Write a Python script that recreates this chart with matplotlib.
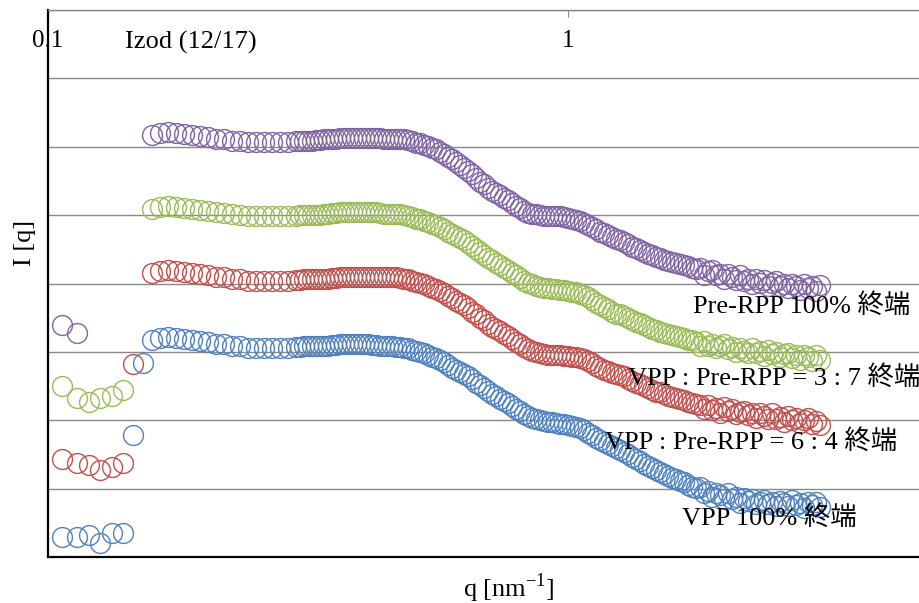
import numpy as np
import matplotlib
matplotlib.use('Agg')
import matplotlib.pyplot as plt
from matplotlib.ticker import NullLocator, FixedLocator

# FONTS (serif latin + CJK fallback for 終端)
plt.rcParams['font.family'] = ['Liberation Serif', 'Noto Sans CJK JP']
plt.rcParams['mathtext.fontset'] = 'custom'
plt.rcParams['mathtext.rm'] = 'Liberation Serif'

# DATA (I in grid units, one grid step per unit)

# low-q points in front of the beam stop
q_low = [0.1064, 0.1137, 0.1199, 0.1259, 0.1328, 0.1394, 0.1457, 0.1522]
nan = np.nan
purple_low = [3.39, 3.28, nan, nan, nan, nan, nan, nan]
green_low = [2.50, 2.33, 2.27, 2.32, 2.35, 2.44, nan, nan]
red_low = [1.43, 1.38, 1.35, 1.27, 1.31, 1.38, 2.82, nan]
blue_low = [0.29, 0.29, 0.32, 0.20, 0.35, 0.35, 1.78, 2.84]

q_main = [0.1585, 0.1642, 0.1701, 0.1763, 0.1826, 0.1892, 0.1960, 0.2031, 0.2104, 0.2180,
          0.2259, 0.2340, 0.2425, 0.2512, 0.2603, 0.2697, 0.2794, 0.2894, 0.2999,
          0.3052, 0.3107, 0.3162, 0.3219, 0.3276, 0.3335, 0.3394, 0.3455, 0.3517, 0.3580,
          0.3644, 0.3709, 0.3775, 0.3843, 0.3911, 0.3981, 0.4052, 0.4125, 0.4198, 0.4273,
          0.4350, 0.4427, 0.4507, 0.4587, 0.4669, 0.4753, 0.4837, 0.4924, 0.5012, 0.5101,
          0.5193, 0.5285, 0.5380, 0.5476, 0.5574, 0.5673, 0.5775, 0.5878, 0.5983, 0.6090,
          0.6199, 0.6310, 0.6422, 0.6537, 0.6654, 0.6773, 0.6894, 0.7017, 0.7142, 0.7270,
          0.7400, 0.7532, 0.7667, 0.7804, 0.7943, 0.8085, 0.8230, 0.8377, 0.8526, 0.8679,
          0.8834, 0.8992, 0.9152, 0.9316, 0.9483, 0.9652, 0.9824, 1.0000, 1.0179, 1.0361,
          1.0546, 1.0734, 1.0926, 1.1121, 1.1320, 1.1522, 1.1728, 1.1938, 1.2151, 1.2368,
          1.2589, 1.2814, 1.3043, 1.3276, 1.3513, 1.3755, 1.4001, 1.4251, 1.4506, 1.4765,
          1.5029, 1.5298, 1.5571, 1.5849, 1.6132, 1.6421, 1.6714, 1.7013, 1.7317, 1.7626,
          1.7941, 1.8262, 1.8588, 1.8920, 1.9258, 1.9603, 1.9953, 2.0309, 2.0672, 2.1042,
          2.1418, 2.1800, 2.2190, 2.2586, 2.2990, 2.3401, 2.3819, 2.4245, 2.4678, 2.5119,
          2.5568, 2.6025, 2.6490, 2.6963, 2.7445, 2.7935, 2.8435, 2.8943, 2.9460, 2.9986,
          3.0522]

purple_main = [6.17, 6.20, 6.22, 6.20, 6.19, 6.17, 6.16, 6.14, 6.12, 6.11,
               6.09, 6.09, 6.07, 6.07, 6.07, 6.07, 6.07, 6.07, 6.08,
               6.08, 6.09, 6.09, 6.09, 6.10, 6.10, 6.11, 6.11, 6.12, 6.12,
               6.13, 6.13, 6.13, 6.13, 6.13, 6.13, 6.13, 6.13, 6.13, 6.13,
               6.13, 6.12, 6.12, 6.12, 6.12, 6.12, 6.11, 6.10, 6.08, 6.06,
               6.05, 6.03, 6.01, 5.98, 5.96, 5.93, 5.89, 5.85, 5.82, 5.78,
               5.74, 5.69, 5.65, 5.60, 5.55, 5.49, 5.45, 5.40, 5.36, 5.32,
               5.29, 5.25, 5.22, 5.18, 5.14, 5.10, 5.06, 5.03, 5.02, 5.01,
               5.00, 4.99, 4.99, 4.99, 4.99, 4.98, 4.97, 4.96, 4.95, 4.93,
               4.91, 4.89, 4.86, 4.82, 4.79, 4.76, 4.74, 4.71, 4.68, 4.65,
               4.63, 4.61, 4.58, 4.54, 4.52, 4.49, 4.46, 4.43, 4.41, 4.39,
               4.37, 4.35, 4.33, 4.31, 4.30, 4.28, 4.27, 4.25, 4.23, 4.21,
               4.22, 4.13, 4.18, 4.20, 4.12, 4.14, 4.07, 4.14, 4.10, 4.05,
               4.12, 4.03, 4.07, 3.99, 4.07, 4.01, 4.05, 3.97, 4.01, 4.03,
               3.96, 4.00, 3.93, 4.00, 3.96, 3.91, 4.00, 3.93, 3.97, 3.89,
               3.98]

green_main = [5.09, 5.12, 5.14, 5.12, 5.11, 5.09, 5.08, 5.06, 5.04, 5.03,
              5.01, 5.00, 4.98, 4.98, 4.98, 4.98, 4.98, 4.98, 4.99,
              5.00, 5.00, 5.00, 5.00, 5.00, 5.00, 5.01, 5.02, 5.03, 5.03,
              5.04, 5.04, 5.04, 5.04, 5.05, 5.05, 5.05, 5.05, 5.05, 5.04,
              5.03, 5.02, 5.02, 5.02, 5.02, 5.01, 5.00, 4.99, 4.97, 4.95,
              4.94, 4.92, 4.90, 4.87, 4.85, 4.82, 4.79, 4.76, 4.73, 4.70,
              4.67, 4.63, 4.59, 4.55, 4.50, 4.46, 4.42, 4.38, 4.34, 4.30,
              4.27, 4.23, 4.20, 4.16, 4.12, 4.08, 4.04, 4.01, 3.99, 3.97,
              3.95, 3.94, 3.93, 3.92, 3.92, 3.91, 3.90, 3.89, 3.88, 3.87,
              3.85, 3.83, 3.80, 3.76, 3.72, 3.68, 3.65, 3.62, 3.59, 3.56,
              3.55, 3.53, 3.49, 3.46, 3.44, 3.42, 3.39, 3.36, 3.34, 3.32,
              3.29, 3.27, 3.26, 3.24, 3.23, 3.22, 3.20, 3.18, 3.17, 3.15,
              3.08, 3.16, 3.09, 3.12, 3.05, 3.09, 3.12, 3.04, 3.07, 3.00,
              3.06, 3.02, 2.98, 3.06, 2.98, 3.01, 2.94, 3.03, 2.97, 3.00,
              2.93, 2.97, 2.99, 2.91, 2.95, 2.88, 2.96, 2.92, 2.87, 2.95,
              2.88]

red_main = [4.15, 4.18, 4.20, 4.18, 4.17, 4.15, 4.14, 4.12, 4.10, 4.09,
            4.07, 4.06, 4.04, 4.04, 4.04, 4.04, 4.04, 4.04, 4.05,
            4.05, 4.06, 4.06, 4.06, 4.06, 4.06, 4.07, 4.07, 4.08, 4.08,
            4.09, 4.09, 4.09, 4.09, 4.09, 4.09, 4.09, 4.09, 4.10, 4.10,
            4.10, 4.09, 4.09, 4.09, 4.09, 4.08, 4.07, 4.06, 4.04, 4.02,
            4.01, 3.99, 3.97, 3.94, 3.92, 3.89, 3.86, 3.82, 3.79, 3.75,
            3.72, 3.68, 3.64, 3.59, 3.55, 3.50, 3.46, 3.41, 3.37, 3.33,
            3.30, 3.26, 3.23, 3.19, 3.15, 3.11, 3.07, 3.04, 3.02, 3.00,
            2.98, 2.97, 2.96, 2.95, 2.95, 2.95, 2.94, 2.94, 2.93, 2.92,
            2.91, 2.90, 2.86, 2.83, 2.79, 2.76, 2.74, 2.72, 2.69, 2.67,
            2.66, 2.64, 2.60, 2.57, 2.55, 2.53, 2.50, 2.47, 2.44, 2.42,
            2.41, 2.39, 2.36, 2.34, 2.33, 2.31, 2.29, 2.27, 2.25, 2.24,
            2.22, 2.16, 2.23, 2.15, 2.18, 2.11, 2.19, 2.14, 2.17, 2.09,
            2.12, 2.14, 2.07, 2.10, 2.03, 2.10, 2.06, 2.02, 2.10, 2.02,
            2.05, 1.98, 2.06, 2.01, 2.04, 1.96, 2.00, 2.03, 1.95, 1.99,
            1.93]

blue_main = [3.17, 3.20, 3.22, 3.20, 3.19, 3.17, 3.16, 3.14, 3.12, 3.11,
             3.09, 3.08, 3.06, 3.06, 3.06, 3.06, 3.06, 3.06, 3.07,
             3.07, 3.08, 3.08, 3.08, 3.08, 3.08, 3.09, 3.09, 3.10, 3.10,
             3.11, 3.11, 3.11, 3.11, 3.11, 3.11, 3.11, 3.11, 3.10, 3.10,
             3.09, 3.08, 3.08, 3.08, 3.07, 3.07, 3.06, 3.05, 3.03, 3.01,
             3.00, 2.98, 2.96, 2.93, 2.91, 2.88, 2.85, 2.81, 2.77, 2.74,
             2.71, 2.68, 2.64, 2.60, 2.55, 2.51, 2.47, 2.43, 2.39, 2.35,
             2.31, 2.28, 2.25, 2.21, 2.17, 2.13, 2.09, 2.06, 2.04, 2.02,
             2.00, 1.99, 1.98, 1.97, 1.96, 1.95, 1.94, 1.93, 1.92, 1.90,
             1.88, 1.86, 1.82, 1.78, 1.74, 1.71, 1.68, 1.65, 1.62, 1.59,
             1.57, 1.54, 1.50, 1.46, 1.43, 1.40, 1.36, 1.33, 1.30, 1.27,
             1.24, 1.21, 1.19, 1.16, 1.14, 1.11, 1.09, 1.06, 1.03, 1.01,
             1.02, 0.93, 0.96, 0.88, 0.94, 0.90, 0.85, 0.93, 0.85, 0.88,
             0.79, 0.87, 0.82, 0.85, 0.77, 0.81, 0.84, 0.77, 0.80, 0.74,
             0.82, 0.79, 0.74, 0.83, 0.76, 0.79, 0.72, 0.81, 0.76, 0.80,
             0.73]

series_names = ['Pre-RPP 100% 終端', 'VPP : Pre-RPP = 3 : 7 終端',
                'VPP : Pre-RPP = 6 : 4 終端', 'VPP 100% 終端']
series_low = [purple_low, green_low, red_low, blue_low]
series_main = [purple_main, green_main, red_main, blue_main]
colors = ['#8064A2', '#9BBB59', '#C0504D', '#4F81BD']

x_ticks = [0.1, 1]
x_tick_labels = ['0.1', '1']

# FIGURE
W, H = 919, 603
fig = plt.figure(figsize=(W / 100, H / 100), dpi=100)
ax = fig.add_axes([48 / W, 46 / H, 871 / W, 547 / H])

for low, main, col in zip(series_low, series_main, colors):
    ax.plot(q_low + q_main, low + main, linestyle='none', marker='o', ms=14.3,
            mfc='none', mec=col, mew=1.0)

ax.set_xscale('log')
ax.set_xlim(0.1, 10 ** (-1 + 871 / 520))
ax.set_ylim(0, 8)

# horizontal grid
ax.yaxis.set_major_locator(FixedLocator(range(0, 9)))
ax.yaxis.grid(True, color='#898989', lw=1.0)
ax.set_axisbelow(True)
ax.tick_params(axis='y', left=False, labelleft=False)

# x axis at the top, labels inside
ax.xaxis.set_major_locator(FixedLocator(x_ticks))
ax.xaxis.set_minor_locator(NullLocator())
ax.set_xticklabels(x_tick_labels)
ax.tick_params(axis='x', bottom=False, labelbottom=False, top=True, labeltop=True,
               direction='in', length=5, color='#898989', labelsize=18, pad=-30)

ax.spines['right'].set_visible(False)
ax.spines['top'].set_color('#898989')
ax.spines['top'].set_linewidth(1.0)
ax.spines['left'].set_linewidth(1.6)
ax.spines['bottom'].set_linewidth(1.6)
ax.spines['left'].set_color('black')
ax.spines['bottom'].set_color('black')

# texts
fig.text(125 / W, 1 - 42 / H, 'Izod (12/17)', fontsize=19, ha='left', va='center')
fig.text(25 / W, 1 - 243 / H, 'I [q]', fontsize=19, rotation=90, ha='center', va='center')
fig.text(509 / W, 1 - 588 / H, r'q [nm$^{\mathregular{-1}}$]', fontsize=19, ha='center', va='center')

label_x = [693, 628, 605, 682]
label_y = [306, 378, 442, 518]
for name, lx, ly in zip(series_names, label_x, label_y):
    fig.text(lx / W, 1 - ly / H, name, fontsize=19, ha='left', va='center', zorder=5)

fig.savefig('out.png', dpi=100)
